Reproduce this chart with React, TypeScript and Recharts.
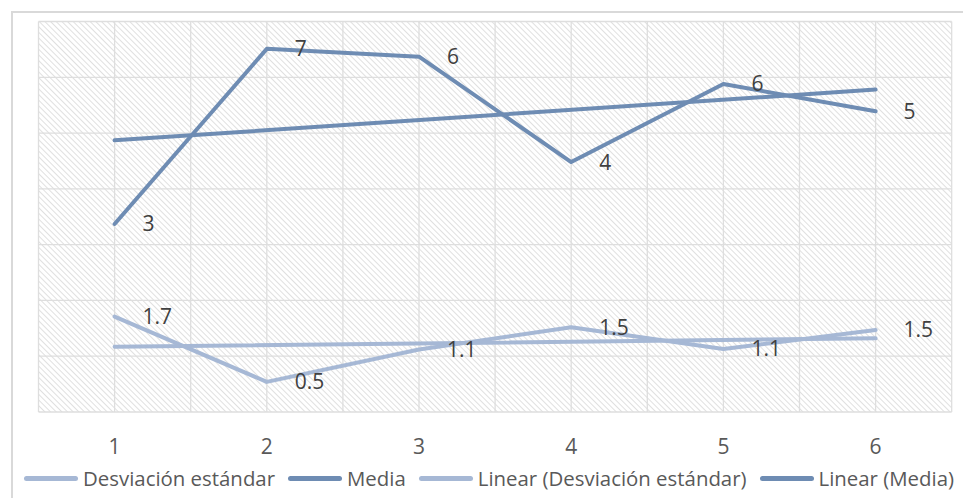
import React from "react";
import {
  ComposedChart,
  Line,
  XAxis,
  YAxis,
  CartesianGrid,
  Legend,
  LabelList,
} from "recharts";

// ---- data ----
const categories = [1, 2, 3, 4, 5, 6];
const mediaValues = [3.37, 6.51, 6.37, 4.48, 5.88, 5.39];
const desvValues = [1.71, 0.54, 1.12, 1.52, 1.13, 1.47];
// linear trend lines: endpoints
const trendMediaValues: (number | null)[] = [4.87, null, null, null, null, 5.78];
const trendDesvValues: (number | null)[] = [1.17, null, null, null, null, 1.32];
const xTicks = [1, 2, 3, 4, 5, 6];
const yTicks = [0, 1, 2, 3, 4, 5, 6, 7];

const seriesNames = [
  "Desviación estándar",
  "Media",
  "Linear (Desviación estándar)",
  "Linear (Media)",
];

const LIGHT = "#a6b8d5";
const DARK = "#6e8cb3";
const FONT = "'Open Sans', 'Noto Sans', sans-serif";
const FS = 21;
const LEGEND_FS = 20.4;

const data = categories.map((c, i) => ({
  x: c,
  desv: desvValues[i],
  media: mediaValues[i],
  trendDesv: trendDesvValues[i],
  trendMedia: trendMediaValues[i],
}));

const legendColors = [LIGHT, DARK, LIGHT, DARK];

const renderLegend = () => (
  <div
    style={{
      display: "flex",
      alignItems: "center",
      height: 36,
      fontFamily: FONT,
      fontSize: LEGEND_FS,
      color: "#595959",
      whiteSpace: "nowrap",
    }}
  >
    {seriesNames.map((n, i) => (
      <div
        key={n}
        style={{
          display: "flex",
          alignItems: "center",
          marginRight: 13,
          flexShrink: 0,
        }}
      >
        <div
          style={{
            width: 54,
            height: 5,
            borderRadius: 3,
            background: legendColors[i],
            marginRight: 5,
          }}
        />
        <span>{n}</span>
      </div>
    ))}
  </div>
);

export default function App() {
  return (
    <div
      style={{
        position: "relative",
        width: 963,
        height: 490,
        overflow: "hidden",
      }}
    >
      <svg width={0} height={0} style={{ position: "absolute" }}>
        <defs>
          <pattern
            id="hatch"
            width={4}
            height={4}
            patternUnits="userSpaceOnUse"
            patternTransform="rotate(-45)"
          >
            <rect width={4} height={4} fill="#ffffff" />
            <line x1={0} y1={0} x2={0} y2={4} stroke="#d9d9d9" strokeWidth={1.6} />
          </pattern>
        </defs>
      </svg>
      <div
        style={{
          position: "absolute",
          left: 3,
          top: 3,
          width: 2000,
          height: 2000,
          borderLeft: "2px solid #d9d9d9",
          borderTop: "2px solid #d9d9d9",
        }}
      />
      <div style={{ position: "absolute", left: 0, top: 0 }}>
        <ComposedChart
          width={963}
          height={490}
          data={data}
          margin={{ top: 13.5, right: 19.3, left: 30.5, bottom: 0 }}
        >
          <CartesianGrid
            stroke="#dedede"
            strokeWidth={1.3}
            fill="url(#hatch)"
            fillOpacity={1}
            verticalCoordinatesGenerator={({ offset }: any) =>
              Array.from({ length: 13 }, (_, i) => offset.left + (i * offset.width) / 12)
            }
          />
          <XAxis
            dataKey="x"
            type="number"
            domain={[0.5, 6.5]}
            ticks={xTicks}
            axisLine={false}
            tickLine={false}
            tickSize={0}
            tickMargin={27}
            height={50}
            tick={{ fill: "#595959", fontSize: FS, fontFamily: FONT }}
          />
          <YAxis hide domain={[0, 7]} ticks={yTicks} />
          <Line
            type="linear"
            dataKey="desv"
            name={seriesNames[0]}
            stroke={LIGHT}
            strokeWidth={4}
            strokeLinecap="round"
            strokeLinejoin="round"
            dot={false}
            activeDot={false}
            isAnimationActive={false}
          >
            <LabelList
              dataKey="desv"
              position="right"
              offset={28}
              fill="#404040"
              fontSize={FS}
              fontFamily={FONT}
              formatter={(v: any) => Number(v).toFixed(1)}
            />
          </Line>
          <Line
            type="linear"
            dataKey="media"
            name={seriesNames[1]}
            stroke={DARK}
            strokeWidth={4}
            strokeLinecap="round"
            strokeLinejoin="round"
            dot={false}
            activeDot={false}
            isAnimationActive={false}
          >
            <LabelList
              dataKey="media"
              position="right"
              offset={28}
              fill="#404040"
              fontSize={FS}
              fontFamily={FONT}
              formatter={(v: any) => Math.round(Number(v)).toString()}
            />
          </Line>
          <Line
            type="linear"
            dataKey="trendDesv"
            name={seriesNames[2]}
            stroke={LIGHT}
            strokeWidth={4}
            strokeLinecap="round"
            dot={false}
            activeDot={false}
            connectNulls
            isAnimationActive={false}
          />
          <Line
            type="linear"
            dataKey="trendMedia"
            name={seriesNames[3]}
            stroke={DARK}
            strokeWidth={4}
            strokeLinecap="round"
            dot={false}
            activeDot={false}
            connectNulls
            isAnimationActive={false}
          />
          <Legend
            verticalAlign="bottom"
            height={36}
            content={renderLegend}
            wrapperStyle={{ left: 16, top: 452, width: 990, height: 36 }}
          />
        </ComposedChart>
      </div>
    </div>
  );
}
